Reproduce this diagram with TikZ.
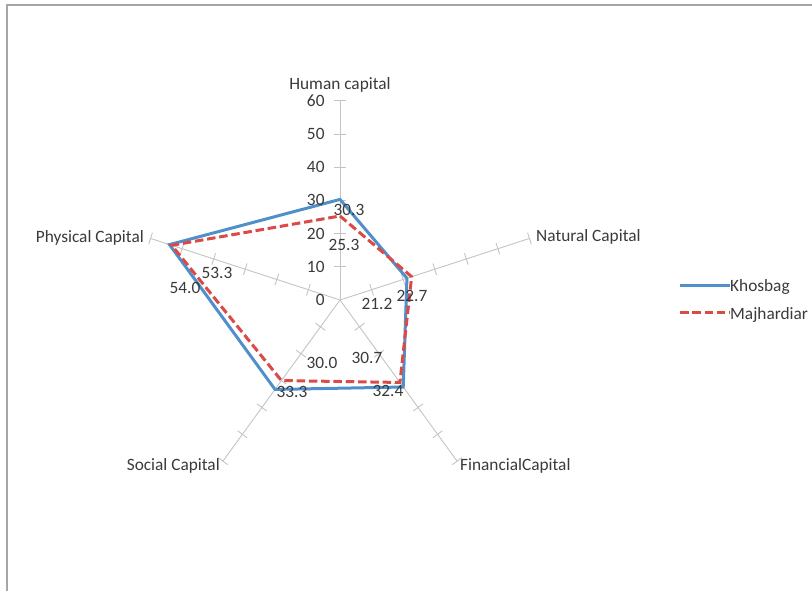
\documentclass[tikz,border=0pt]{standalone}
\usepackage{fontspec}
\setmainfont{Carlito}
\usetikzlibrary{calc}
\definecolor{SeriesBlue}{HTML}{4F8FCC}
\definecolor{SeriesRed} {HTML}{DC4A46}
\definecolor{AxisGray}  {HTML}{C4C4C4}
\definecolor{FrameGray} {HTML}{A6A6A6}
\definecolor{TextGray}  {HTML}{3A3A3A}
\tikzset{
  axisline/.style={draw=AxisGray,line width=0.9pt},
  tickline/.style={draw=AxisGray,line width=0.9pt},
  lbl/.style={font=\fontsize{17.3}{19}\selectfont\color{TextGray},inner sep=0pt},
  kho/.style={draw=SeriesBlue,line width=3pt,line join=miter},
  maj/.style={draw=SeriesRed,line width=3pt,dash pattern=on 8.5pt off 3.8pt},
}

\begin{document}
\begin{tikzpicture}[x=1pt,y=1pt]
  \useasboundingbox (0,0) rectangle (812,591);
  \clip (0,0) rectangle (812,591);
  \draw[FrameGray,line width=1.5pt] (7,586) rectangle (830,-20);

  \begin{scope}[shift={(340,291)},x=3.32pt,y=3.32pt]
    \coordinate (O)  at (0,0);
    \coordinate (hc) at (90:60);
    \coordinate (nc) at (18:60);
    \coordinate (fc) at (-54:60);
    \coordinate (sc) at (-126:60);
    \coordinate (pc) at (162:60);

    \draw[axisline] (O) -- (hc);
    \draw[axisline] (O) -- (nc);
    \draw[axisline] (O) -- (fc);
    \draw[axisline] (O) -- (sc);
    \draw[axisline] (O) -- (pc);
    \foreach \a in {90,18,-54,-126,162}
      \foreach \r in {10,20,...,60}
        \draw[tickline,rotate=\a] (\r,-1.8) -- (\r,1.8);

    % series values
    \coordinate (khoH) at (90:30.3);
    \coordinate (khoN) at (18:21.2);
    \coordinate (khoF) at (-54:32.4);
    \coordinate (khoS) at (-126:33.3);
    \coordinate (khoP) at (162:54.0);
    \coordinate (majH) at (90:25.3);
    \coordinate (majN) at (18:22.7);
    \coordinate (majF) at (-54:30.7);
    \coordinate (majS) at (-126:30.0);
    \coordinate (majP) at (162:53.3);

    \draw[kho] (khoH) -- (khoN) -- (khoF) -- (khoS) -- (khoP) -- cycle;
    \draw[maj] (majH) -- (majN) -- (majF) -- (majS) -- (majP) -- cycle;

    \node[lbl,anchor=east] (t0)  at (-4.6,0)  {0};
    \node[lbl,anchor=east] (t10) at (-4.6,10) {10};
    \node[lbl,anchor=east] (t20) at (-4.6,20) {20};
    \node[lbl,anchor=east] (t30) at (-4.6,30) {30};
    \node[lbl,anchor=east] (t40) at (-4.6,40) {40};
    \node[lbl,anchor=east] (t50) at (-4.6,50) {50};
    \node[lbl,anchor=east] (t60) at (-4.6,60) {60};
  \end{scope}

  % axis names
  \node[lbl] (hcName) at (340,506) {Human capital};
  \node[lbl,anchor=west] (ncName) at (536,354) {Natural Capital};
  \node[lbl,anchor=west] (fcName) at (460,125) {FinancialCapital};
  \node[lbl,anchor=east] (scName) at (220,125) {Social Capital};
  \node[lbl,anchor=east] (pcName) at (144,353) {Physical Capital};

  % data labels
  \node[lbl] (vkhoH) at (349,381) {30.3};
  \node[lbl] (vmajH) at (344,346) {25.3};
  \node[lbl] (vkhoN) at (377,287) {21.2};
  \node[lbl] (vmajN) at (412,295) {22.7};
  \node[lbl] (vmajF) at (367,233) {30.7};
  \node[lbl] (vkhoF) at (388,200) {32.4};
  \node[lbl] (vmajS) at (322,228) {30.0};
  \node[lbl] (vkhoS) at (292,199) {33.3};
  \node[lbl] (vmajP) at (217,318) {53.3};
  \node[lbl] (vkhoP) at (185,303) {54.0};

  % legend
  \node[lbl,anchor=west] (khoKey) at (730,304) {Khosbag};
  \node[lbl,anchor=west] (majKey) at (730,276) {Majhardiar};
  \coordinate (khoLine) at (680,305);
  \coordinate (majLine) at (680,278);
  \draw[kho] (khoLine) -- (khoLine -| khoKey.west);
  \draw[maj] (majLine) -- (majLine -| majKey.west);
\end{tikzpicture}
\end{document}
